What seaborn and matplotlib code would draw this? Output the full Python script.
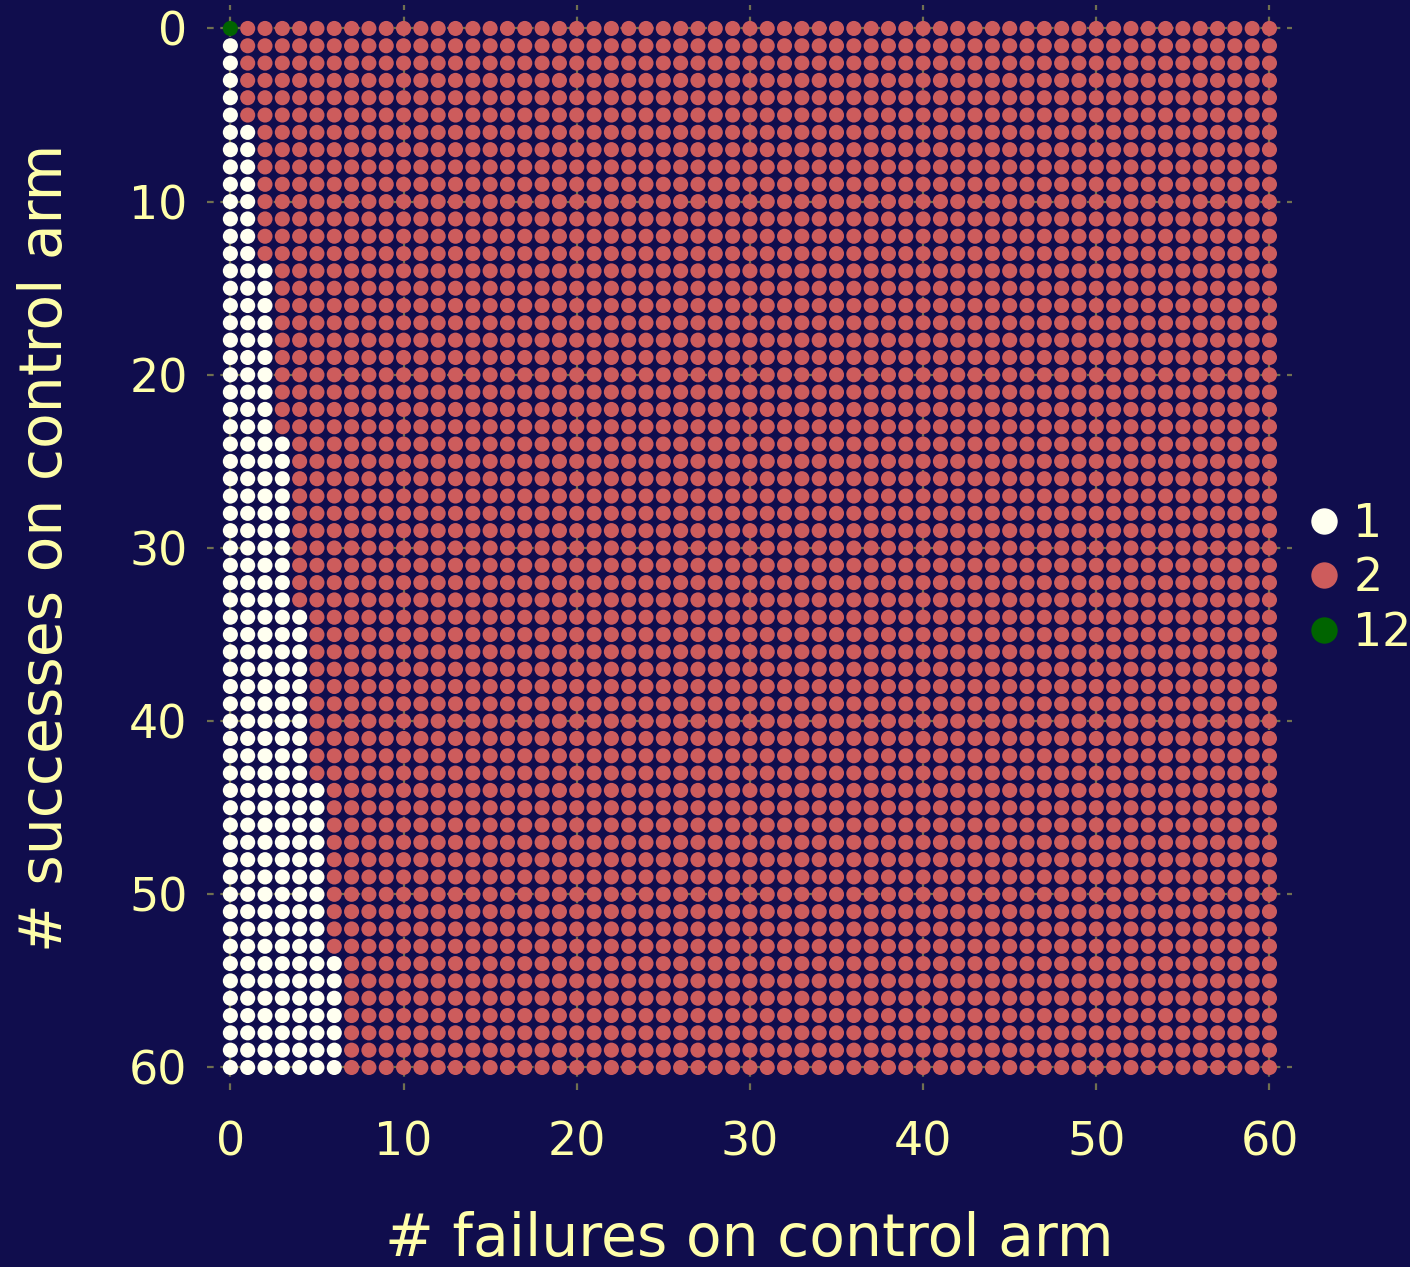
import numpy as np
import pandas as pd
import matplotlib
matplotlib.use("Agg")
import matplotlib.pyplot as plt
import seaborn as sns

# ---- data ----
failures = list(range(0, 61))          # x: # failures on control arm
successes = list(range(0, 61))         # y: # successes on control arm
# number of leading "1" columns (starting at failures=0) for each successes row
white_cols_per_row = ([1] * 6 + [2] * 8 + [3] * 10 + [4] * 10 + [5] * 10 + [6] * 10 + [7] * 7)
special_point = (0, 0, "12")            # (failures, successes, category)
categories = ["1", "2", "12"]
cat_colors = ["#FFFFF0", "#CD5C5C", "#006400"]
tick_vals = [0, 10, 20, 30, 40, 50, 60]

rows = []
for s in successes:
    for f in failures:
        if (f, s) == special_point[:2]:
            cat = special_point[2]
        elif f < white_cols_per_row[s]:
            cat = "1"
        else:
            cat = "2"
        rows.append((f, s, cat))
df = pd.DataFrame(rows, columns=["failures", "successes", "cat"])
df["cat"] = pd.Categorical(df["cat"], categories=categories, ordered=True)

BG = "#100D4D"
TXT = "#FFFFAA"
GRID = "#707050"

sns.set_theme(style="dark")
plt.rcParams["font.family"] = ["DejaVu Sans"]

fig = plt.figure(figsize=(14.10, 12.67), dpi=100, facecolor=BG)
ax = fig.add_axes([0.1468, 0.1397, 0.7695, 0.8563])
ax.set_facecolor(BG)

sns.scatterplot(data=df, x="failures", y="successes", hue="cat",
                hue_order=categories, palette=cat_colors, s=118,
                linewidth=0, ax=ax, zorder=3)

ax.set_xlim(-1.35, 61.3)
ax.set_ylim(61.3, -1.35)
ax.set_xticks(tick_vals)
ax.set_yticks(tick_vals)
ax.grid(True, color=GRID, linestyle=(0, (3, 3)), linewidth=1.6, zorder=0)
ax.set_axisbelow(True)
for sp in ax.spines.values():
    sp.set_visible(False)
ax.tick_params(axis="both", length=0, colors=TXT, labelsize=33)
ax.tick_params(axis="x", pad=22)
ax.tick_params(axis="y", pad=14)

ax.set_xlabel("# failures on control arm", color=TXT, fontsize=42)
ax.set_ylabel("# successes on control arm", color=TXT, fontsize=42)
ax.xaxis.label.set_va("center")
ax.yaxis.label.set_va("center")
ax.xaxis.set_label_coords(0.5, -0.138)
ax.yaxis.set_label_coords(-0.149, 0.5)

handles, labels = ax.get_legend_handles_labels()
leg = ax.legend(handles, labels, loc="center left", bbox_to_anchor=(1.008, 0.471),
                frameon=False, fontsize=33, markerscale=1.75, handlelength=1.0,
                handletextpad=0.15, labelspacing=0.2, borderpad=0, borderaxespad=0)
for t in leg.get_texts():
    t.set_color(TXT)

fig.savefig("out.png", dpi=100, facecolor=BG)
